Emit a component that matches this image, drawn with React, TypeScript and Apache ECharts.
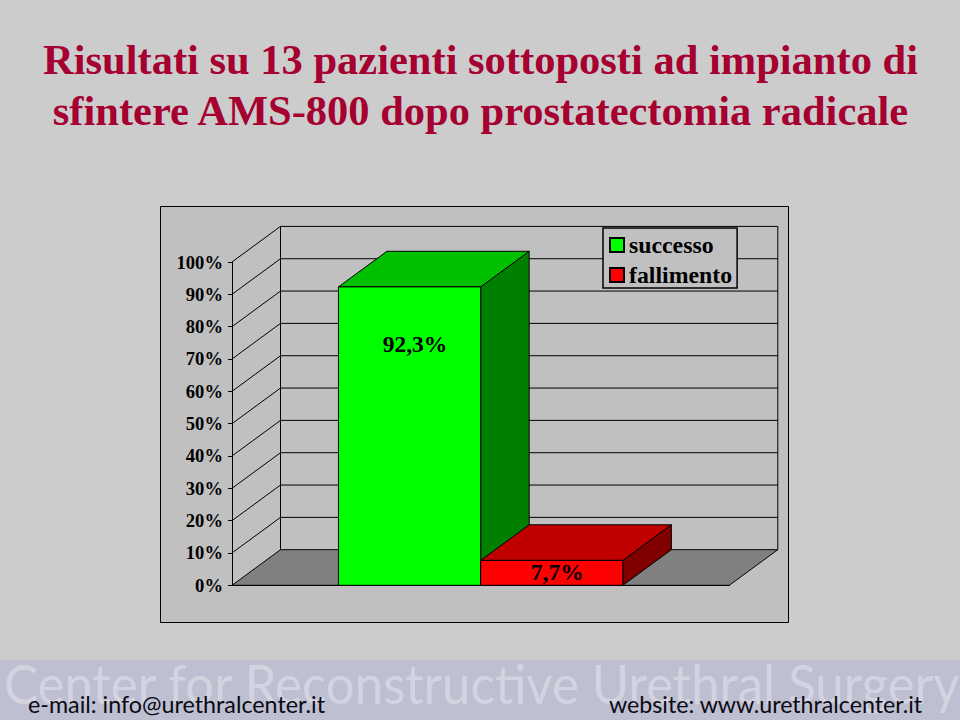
import React, { useEffect, useRef } from "react";
import * as echarts from "echarts";

const titleLines = [
  "Risultati su 13 pazienti sottoposti ad impianto di",
  "sfintere AMS-800 dopo prostatectomia radicale",
];
const categories = ["esito"];
const seriesNames = ["successo", "fallimento"];
const seriesValues = [92.3, 7.7];
const yTicks = [0, 10, 20, 30, 40, 50, 60, 70, 80, 90, 100];
const bannerText = "Center for Reconstructive Urethral Surgery";
const emailText = "e-mail: info@urethralcenter.it";
const siteText = "website: www.urethralcenter.it";

const SERIF = '"Liberation Serif", "Times New Roman", serif';
const DX = 48.5;
const DY = -35.6;
const BAR_W = 142.2;
const LINE = "#000000";

const palettes = [
  { front: "#00FF00", top: "#00C000", side: "#008000" },
  { front: "#FF0000", top: "#C00000", side: "#800000" },
];
const labelOffset = [
  { x: 5.5, y: 57 },
  { x: 5.5, y: 12 },
];

function wallItem(params: any, api: any) {
  const tick = api.value(1);
  const p = api.coord([0, tick]);
  const band = api.size([1, 0])[0];
  const x0 = p[0] - band / 2;
  const x1 = p[0] + band / 2;
  const y = p[1];
  const children: any[] = [];
  const style = { stroke: LINE, lineWidth: 1, fill: "none" };
  if (tick === 0) {
    children.push({
      type: "polygon",
      shape: { points: [[x0, y], [x0 + DX, y + DY], [x1 + DX, y + DY], [x1, y]] },
      style: { fill: "#808080", stroke: LINE, lineWidth: 1 },
    });
    const top = api.coord([0, 100])[1];
    children.push({
      type: "polyline",
      shape: { points: [[x0 + DX, y + DY], [x0 + DX, top + DY]] },
      style,
    });
    children.push({
      type: "polyline",
      shape: { points: [[x1 + DX, y + DY], [x1 + DX, top + DY]] },
      style,
    });
  } else {
    children.push({
      type: "polyline",
      shape: { points: [[x0, y], [x0 + DX, y + DY], [x1 + DX, y + DY]] },
      style,
    });
  }
  return { type: "group", children };
}

function barItem(index: number) {
  return (params: any, api: any) => {
    const v = api.value(1);
    const c = api.coord([0, v]);
    const base = api.coord([0, 0]);
    const left = c[0] - BAR_W + index * BAR_W;
    const right = left + BAR_W;
    const yt = c[1];
    const yb = base[1];
    const pal = palettes[index];
    const edge = { stroke: LINE, lineWidth: 1 };
    return {
      type: "group",
      children: [
        {
          type: "polygon",
          shape: { points: [[right, yt], [right + DX, yt + DY], [right + DX, yb + DY], [right, yb]] },
          style: { fill: pal.side, ...edge },
        },
        {
          type: "polygon",
          shape: { points: [[left, yt], [left + DX, yt + DY], [right + DX, yt + DY], [right, yt]] },
          style: { fill: pal.top, ...edge },
        },
        {
          type: "rect",
          shape: { x: left, y: yt, width: BAR_W, height: yb - yt },
          style: { fill: pal.front, ...edge },
        },
        {
          type: "text",
          style: {
            x: (left + right) / 2 + labelOffset[index].x,
            y: yt + labelOffset[index].y,
            text: String(v).replace(".", ",") + "%",
            font: `bold 23.5px ${SERIF}`,
            fill: "#000000",
            align: "center",
            verticalAlign: "middle",
          },
        },
      ],
    };
  };
}

export default function App() {
  const ref = useRef<HTMLDivElement>(null);
  useEffect(() => {
    const chart = echarts.init(ref.current!, undefined, { renderer: "svg" });
    chart.setOption({
      animation: false,
      backgroundColor: "#CCCCCC",
      title: {
        text: titleLines.join("\n"),
        left: 475.5,
        top: 29,
        textAlign: "center",
        textStyle: {
          fontFamily: SERIF,
          fontWeight: "bold",
          fontSize: 42.5,
          lineHeight: 51,
          color: "#A50030",
        },
      },
      grid: { left: 232, top: 262, width: 497.3, height: 323.3, containLabel: false },
      xAxis: {
        type: "category",
        data: categories,
        axisLine: { lineStyle: { color: LINE, width: 1 } },
        axisTick: { length: 4, lineStyle: { color: LINE } },
        axisLabel: { show: false },
      },
      yAxis: {
        type: "value",
        min: 0,
        max: 100,
        interval: 10,
        axisLine: { show: true, lineStyle: { color: LINE, width: 1 } },
        axisTick: { show: true, length: 4, lineStyle: { color: LINE } },
        axisLabel: {
          formatter: "{value}%",
          margin: 9,
          fontFamily: SERIF,
          fontWeight: "bold",
          fontSize: 18.6,
          color: "#000000",
        },
        splitLine: { show: false },
      },
      legend: {
        data: seriesNames,
        orient: "vertical",
        left: 603,
        top: 228,
        padding: [5, 5, 1, 6],
        itemWidth: 14,
        itemHeight: 14,
        itemGap: 6,
        icon: "rect",
        backgroundColor: "#C0C0C0",
        borderColor: "#000000",
        borderWidth: 1.5,
        selectedMode: false,
        textStyle: {
          fontFamily: SERIF,
          fontWeight: "bold",
          fontSize: 23.8,
          lineHeight: 20,
          color: "#000000",
        },
      },
      series: [
        {
          type: "custom",
          name: "griglia",
          renderItem: wallItem,
          data: yTicks.map((t) => [0, t]),
          silent: true,
          z: 1,
        },
        ...seriesNames.map((name, i) => ({
          type: "custom",
          name,
          renderItem: barItem(i),
          data: [[0, seriesValues[i]]],
          itemStyle: { color: palettes[i].front, borderColor: "#000000", borderWidth: 1 },
          silent: true,
          z: 2 + i,
        })),
      ],
      graphic: [
        {
          type: "rect",
          z: -10,
          shape: { x: 160.5, y: 206.5, width: 628, height: 416 },
          style: { fill: "#C0C0C0", stroke: "#000000", lineWidth: 1 },
        },
        {
          type: "rect",
          z: -10,
          shape: { x: 0, y: 660, width: 960, height: 60 },
          style: { fill: "#BEBFD0" },
        },
        {
          type: "text",
          z: -9,
          x: 4,
          y: 682.5,
          scaleY: 1.06,
          style: {
            text: bannerText,
            font: '51px Lato, "Noto Sans", sans-serif',
            fill: "#D3D4E0",
            verticalAlign: "middle",
            shadowColor: "rgba(90,90,120,0.4)",
            shadowBlur: 3,
            shadowOffsetX: 1,
            shadowOffsetY: 2,
          },
        },
        {
          type: "text",
          z: -8,
          x: 28,
          y: 704,
          style: {
            text: emailText,
            font: '23.3px Lato, "Noto Sans", sans-serif',
            fill: "#0A0A14",
            verticalAlign: "middle",
          },
        },
        {
          type: "text",
          z: -8,
          x: 609,
          y: 704,
          style: {
            text: siteText,
            font: '23.2px Lato, "Noto Sans", sans-serif',
            fill: "#0A0A14",
            verticalAlign: "middle",
          },
        },
      ],
    });
    return () => chart.dispose();
  }, []);
  return (
    <div
      ref={ref}
      style={{ position: "absolute", left: 0, top: 0, width: 960, height: 720 }}
    />
  );
}
